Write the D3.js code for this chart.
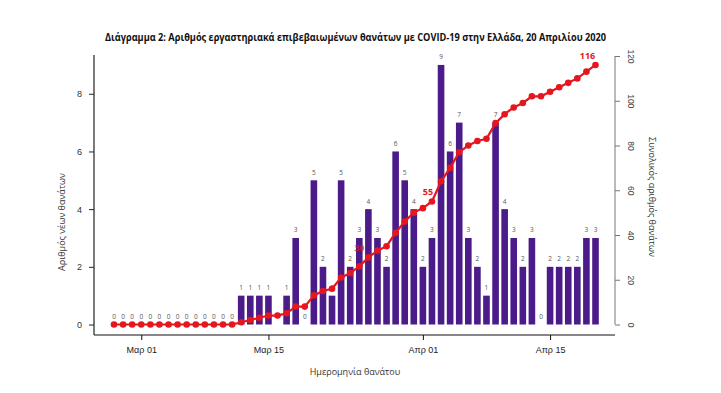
<!DOCTYPE html>
<html><head><meta charset="utf-8">
<script src="https://cdn.jsdelivr.net/npm/d3@7"></script>
<style>body{margin:0;background:#fff}svg{display:block;font-family:"Open Sans","Noto Sans",sans-serif}</style>
</head><body><svg id="c" width="721" height="393"></svg>
<script>
const title = "Διάγραμμα 2: Αριθμός εργαστηριακά επιβεβαιωμένων θανάτων με COVID-19 στην Ελλάδα, 20 Απριλίου 2020";
const startDate = "2020-02-27";
// daily new deaths from Feb 27 to Apr 20 (null = not reported)
const daily = [0,0,0,0,0,0,0,0,0,0,0,0,0,0,
  1,1,1,1,null,1,3,0,5,2,1,5,2,3,4,3,2,6,5,4,2,
  3,9,6,7,3,2,1,7,4,3,2,3,0,2,2,2,2,3,3];
const cumulative = [0,0,0,0,0,0,0,0,0,0,0,0,0,0,
  1,2,3,4,4,5,8,8,13,15,16,21,23,26,30,33,35,41,46,50,52,
  55,64,70,77,80,82,83,90,94,97,99,102,102,104,106,108,110,113,116];
const highlighted = ["2020-03-26","2020-04-02","2020-04-20"];
const xTicks = ["2020-03-01","2020-03-15","2020-04-01","2020-04-15"];
const xTickLabels = ["Μαρ 01","Μαρ 15","Απρ 01","Απρ 15"];
const leftTicks = [0,2,4,6,8];
const rightTicks = [0,20,40,60,80,100,120];
const xTitle = "Ημερομηνία θανάτου";
const yLeftTitle = "Αριθμός νέων θανάτων";
const yRightTitle = "Συνολικός αριθμός θανάτων";

const parse = d3.utcParse("%Y-%m-%d");
const t0 = parse(startDate);
const data = daily.map((v,i)=>({date:d3.utcDay.offset(t0,i), v, c:cumulative[i]}));
const fmt = d3.utcFormat("%Y-%m-%d");

const svg = d3.select("#c");
const x = d3.scaleUtc().domain([t0, data[data.length-1].date]).range([114, 595.5]);
const yL = d3.scaleLinear().domain([0, 9.31]).range([324.5, 56]);
const yR = d3.scaleLinear().domain([0, 120]).range([324.5, 56]);

const purple = "#4a1b89", red = "#e5161d";

svg.append("text").attr("x",355.5).attr("y",41).attr("text-anchor","middle")
  .attr("font-size",11).attr("font-weight","bold").attr("fill","#111")
  .attr("textLength",501).attr("lengthAdjust","spacingAndGlyphs").text(title);

const bw = 6.6;
svg.append("g").selectAll("rect").data(data.filter(d=>d.v)).join("rect")
  .attr("x",d=>x(d.date)-bw/2).attr("width",bw)
  .attr("y",d=>yL(d.v)).attr("height",d=>yL(0)-yL(d.v)).attr("fill",purple);

svg.append("g").selectAll("text").data(data.filter(d=>d.v!==null)).join("text")
  .attr("x",d=>x(d.date)).attr("y",d=>yL(d.v)-5.5).attr("text-anchor","middle")
  .attr("font-size",6.5).attr("fill","#555").text(d=>d.v);

// line
svg.append("path").datum(data)
  .attr("d",d3.line().x(d=>x(d.date)).y(d=>yR(d.c)))
  .attr("fill","none").attr("stroke",red).attr("stroke-width",2.2);
svg.append("g").selectAll("circle").data(data).join("circle")
  .attr("cx",d=>x(d.date)).attr("cy",d=>yR(d.c)).attr("r",3.3).attr("fill",red);

// highlighted cumulative labels
const hl = data.filter(d=>highlighted.includes(fmt(d.date)));
svg.append("g").selectAll("text").data(hl).join("text")
  .attr("x",(d,i)=>x(d.date)-(i===0?9:i===hl.length-1?8:4)).attr("y",d=>yR(d.c)-6).attr("text-anchor","middle")
  .attr("font-size",9).attr("font-weight","bold").attr("fill",red)
  .attr("opacity",(d,i)=>i===0?0.75:1).text(d=>d.c);

// axes
const axisY = 335;
svg.append("line").attr("x1",94).attr("x2",615).attr("y1",axisY).attr("y2",axisY).attr("stroke","#111").attr("stroke-width",1.2);
svg.append("line").attr("x1",94).attr("x2",94).attr("y1",55).attr("y2",axisY).attr("stroke","#222").attr("stroke-width",1.2);

const gx = svg.append("g").attr("transform",`translate(0,${axisY})`)
  .call(d3.axisBottom(x).tickValues(xTicks.map(parse)).tickSize(5).tickPadding(7)
    .tickFormat((d,i)=>xTickLabels[i]));
gx.select(".domain").remove();
gx.selectAll("text").attr("font-size",9).attr("fill","#222").attr("font-family",null);
gx.selectAll("line").attr("stroke","#111");

const gl = svg.append("g").attr("transform","translate(94,0)")
  .call(d3.axisLeft(yL).tickValues(leftTicks).tickSize(5).tickPadding(7));
gl.select(".domain").remove();
gl.selectAll("text").attr("font-size",9).attr("fill","#333").attr("font-family",null);
gl.selectAll("line").attr("stroke","#222");

const gr = svg.append("g").attr("transform","translate(615,0)")
  .call(d3.axisRight(yR).tickValues(rightTicks).tickSize(5).tickSizeOuter(0).tickPadding(0));
gr.select(".domain").attr("stroke","#777").attr("d",`M0,${yR(0)}V${yR(120)}`);
gr.selectAll("line").attr("stroke","#777");
gr.selectAll(".tick text").attr("font-size",8.5).attr("fill","#444").attr("font-family",null)
  .attr("x",0).attr("dy",null).attr("text-anchor","middle")
  .attr("transform","translate(16,0) rotate(90)").attr("dominant-baseline","central");

svg.append("text").attr("x",355).attr("y",375).attr("text-anchor","middle")
  .attr("font-size",9).attr("fill","#333").text(xTitle);
svg.append("text").attr("transform","translate(61,222) rotate(-90)").attr("text-anchor","middle")
  .attr("dominant-baseline","central").attr("font-size",9).attr("fill","#333").text(yLeftTitle);
svg.append("text").attr("transform","translate(652,197) rotate(90)").attr("text-anchor","middle")
  .attr("dominant-baseline","central").attr("font-size",9).attr("fill","#333").text(yRightTitle);
</script></body></html>
